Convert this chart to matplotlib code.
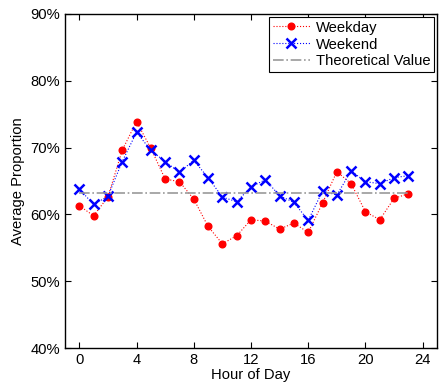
import matplotlib
matplotlib.use("Agg")
import matplotlib.pyplot as plt
from matplotlib.ticker import FuncFormatter
import numpy as np

plt.rcParams['font.family'] = ['Liberation Sans', 'DejaVu Sans']
plt.rcParams['font.size'] = 10.6

hours = list(range(24))
weekday = [61.3, 59.8, 62.6, 69.6, 73.9, 69.9, 65.3, 64.9, 62.3, 58.2, 55.6, 56.8,
           59.2, 59.0, 57.8, 58.7, 57.3, 61.7, 66.4, 64.6, 60.4, 59.2, 62.4, 63.1]
weekend = [63.8, 61.5, 62.7, 67.9, 72.3, 69.6, 67.9, 66.3, 68.1, 65.5, 62.6, 61.9,
           64.1, 65.2, 62.8, 61.8, 59.1, 63.5, 62.9, 66.5, 64.9, 64.6, 65.5, 65.8]
theoretical = (1 - 1 / np.e) * 100

fig = plt.figure(figsize=(4.45, 3.88), dpi=100)
ax = fig.add_axes([0.146, 0.103, 0.836, 0.861])

ax.plot(hours, weekday, ':', color='red', lw=0.8, marker='o', ms=4.8,
        markeredgecolor='red', label='Weekday')
ax.plot(hours, weekend, ':', color='blue', lw=0.8, marker='x', ms=7, mew=1.8,
        label='Weekend')
ax.plot([hours[0], hours[-1]], [theoretical, theoretical], '-.', color='#9a9a9a',
        lw=1.2, label='Theoretical Value')

ax.set_xlim(-1, 25)
ax.set_ylim(40, 90)
ax.set_xticks(range(0, 25, 4))
ax.set_yticks(range(40, 91, 10))
ax.yaxis.set_major_formatter(FuncFormatter(lambda v, p: '%d%%' % v))
ax.tick_params(direction='in', top=True, right=True, length=4, width=0.8, labelsize=10.6)
for s in ax.spines.values():
    s.set_linewidth(1.0)

ax.set_xlabel('Hour of Day', labelpad=1)
ax.set_ylabel('Average Proportion', labelpad=4)

leg = ax.legend(loc='upper right', fancybox=False, edgecolor='black', framealpha=1,
                borderaxespad=0.2, handlelength=2.5, handletextpad=0.4,
                labelspacing=0.2, borderpad=0.25, fontsize=10.6)
leg.get_frame().set_linewidth(0.8)

fig.savefig('out.png', dpi=100)
